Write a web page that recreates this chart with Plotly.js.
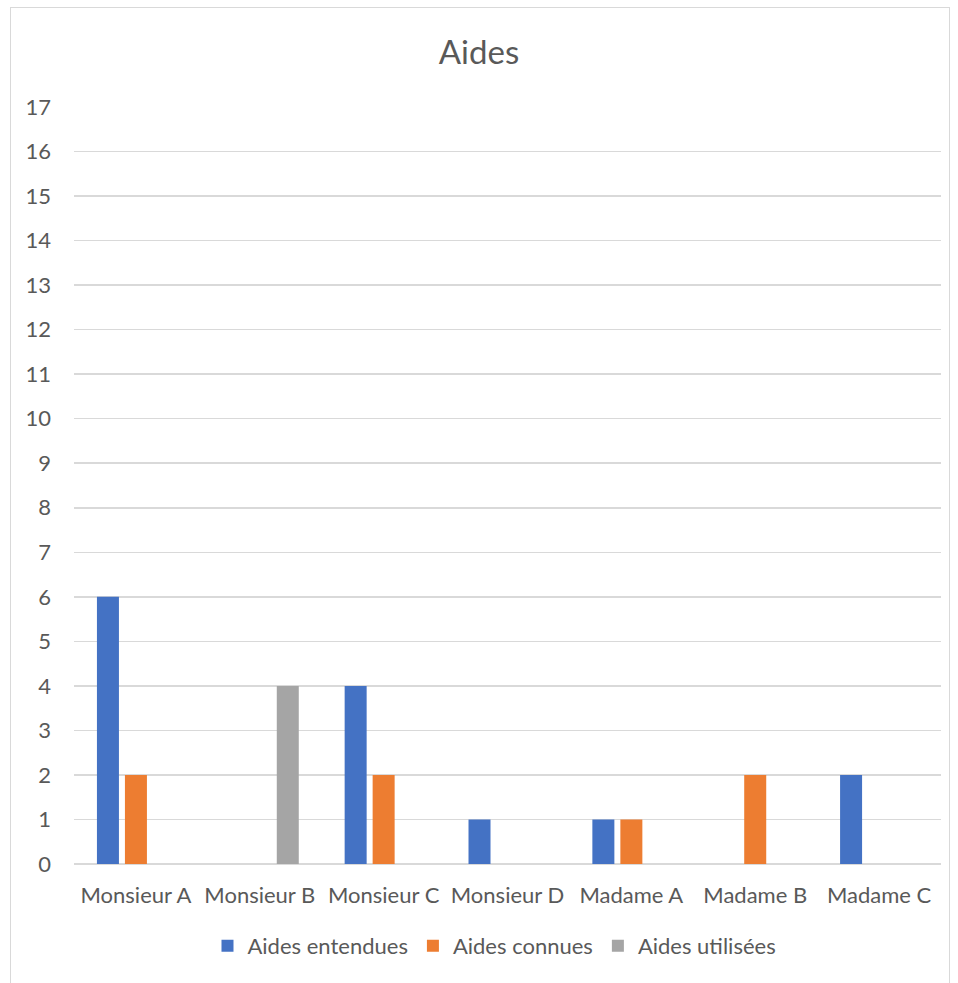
<!DOCTYPE html>
<html>
<head>
<meta charset="utf-8">
<script src="https://cdn.plot.ly/plotly-3.0.1.min.js"></script>
<style>
html,body{margin:0;padding:0;background:#fff;}
#wrap{position:relative;width:958px;height:983px;}
#chart{width:958px;height:983px;}
#frame{position:absolute;left:10px;top:7px;width:938px;height:990px;border:1.5px solid #d9d9d9;border-bottom:none;pointer-events:none;}
</style>
</head>
<body>
<div id="wrap"><div id="chart"></div><div id="frame"></div></div>
<script>
var categories = ["Monsieur A","Monsieur B","Monsieur C","Monsieur D","Madame A","Madame B","Madame C"];
var aidesEntendues = [6, 0, 4, 1, 1, 0, 2];
var aidesConnues   = [2, 0, 2, 0, 1, 2, 0];
var aidesUtilisees = [0, 4, 0, 0, 0, 0, 0];
var seriesNames = ["Aides entendues","Aides connues","Aides utilisées"];
var colors = ["#4472c4","#ed7d31","#a5a5a5"];
var yTicks = [0,1,2,3,4,5,6,7,8,9,10,11,12,13,14,15,16,17];

var font = "Lato, 'Open Sans', sans-serif";
var values = [aidesEntendues, aidesConnues, aidesUtilisees];
var data = values.map(function(v,i){
  return {type:"bar", x:categories, y:v, name:seriesNames[i], marker:{color:colors[i], line:{width:0}}};
});
var layout = {
  width:958, height:983,
  margin:{l:74, r:17, t:107, b:119},
  paper_bgcolor:"#fff", plot_bgcolor:"#fff",
  title:{text:"Aides", font:{family:font, size:33, color:"#595959"}, x:0.5, xanchor:"center", y:1-52/983, yref:"container", yanchor:"middle"},
  barmode:"group", bargap:0.322, bargroupgap:0.214,
  xaxis:{type:"category", showgrid:false, showline:false, zeroline:false, ticks:"", tickfont:{family:font, size:22, color:"#595959"}, ticklabelstandoff:16},
  yaxis:{range:[0,17], tickvals:yTicks, showgrid:true, gridcolor:"#d9d9d9", gridwidth:1.5, zeroline:true, zerolinecolor:"#d9d9d9", zerolinewidth:1.5, showline:false, ticks:"", tickfont:{family:font, size:22, color:"#595959"}, ticklabelstandoff:22},
  showlegend:true,
  legend:{orientation:"h", x:0.485, xanchor:"center", y:(864-946)/757, yanchor:"middle", font:{family:font, size:22, color:"#595959"}, itemwidth:30, traceorder:"normal"}
};
Plotly.newPlot("chart", data, layout, {displayModeBar:false, staticPlot:true});
</script>
</body>
</html>
